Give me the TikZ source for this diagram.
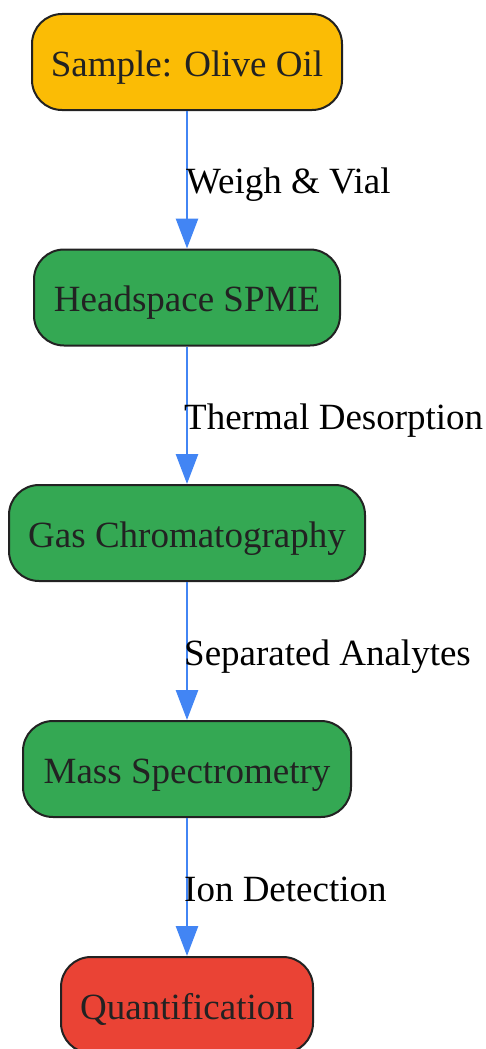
\documentclass[tikz,border=0pt]{standalone}
\usepackage{fontspec}
\setmainfont{Liberation Serif}
\usetikzlibrary{arrows.meta}
\definecolor{cyellow}{HTML}{FBBC05}
\definecolor{cgreen}{HTML}{34A853}
\definecolor{cred}{HTML}{EA4335}
\definecolor{cblue}{HTML}{4285F4}
\definecolor{cborder}{HTML}{222222}
\begin{document}
\begin{tikzpicture}[x=1pt,y=-1pt,
  box/.style={draw=cborder, line width=2pt, rounded corners=30pt, minimum height=96pt,
    text=cborder, font=\fontsize{37}{40}\selectfont, inner sep=0pt, text height=30pt, text depth=2pt},
  flow/.style={draw=cblue, line width=2.8pt, -{Triangle[width=22pt,length=30pt]}},
  lbl/.style={anchor=base west, font=\fontsize{37}{40}\selectfont, text=black, inner sep=0pt}]
\useasboundingbox (0,0) rectangle (486,1049);
\clip (0,0) rectangle (486,1049);
\node[box, fill=cyellow, minimum width=310pt] (s) at (187,62) {Sample: Olive Oil};
\node[box, fill=cgreen, minimum width=306pt] (h) at (187,297.5) {Headspace SPME};
\node[box, fill=cgreen, minimum width=356pt] (g) at (187,533) {Gas Chromatography};
\node[box, fill=cgreen, minimum width=328pt] (m) at (187,769) {Mass Spectrometry};
\node[box, fill=cred, minimum width=252pt] (q) at (187,1005) {Quantification};
\draw[flow] (s.south) -- (h.north);
\draw[flow] (h.south) -- (g.north);
\draw[flow] (g.south) -- (m.north);
\draw[flow] (m.south) -- (q.north);
\node[lbl] (l1) at (186,193) {Weigh \& Vial};
\node[lbl] (l2) at (184,429) {Thermal Desorption};
\node[lbl] (l3) at (184,665) {Separated Analytes};
\node[lbl] (l4) at (184,901) {Ion Detection};
\end{tikzpicture}
\end{document}
